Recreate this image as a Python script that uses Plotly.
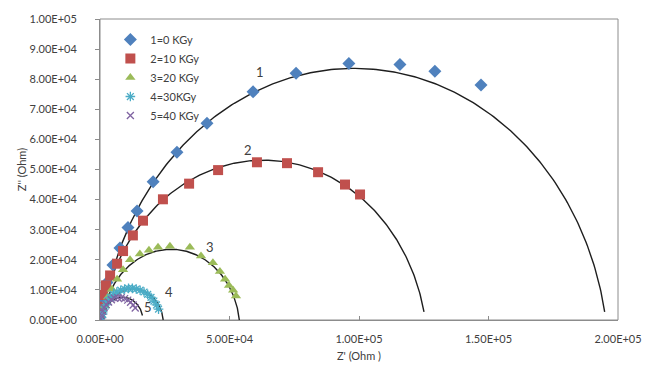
import numpy as np
import plotly.graph_objects as go

# Measured impedance spectra (Z' and Z'' in kOhm) for each dose
names = ["1=0 KGy", "2=10 KGy", "3=20 KGy", "4=30KGy", "5=40 KGy"]

z1_re = [1.2, 2.7, 5.0, 7.7, 10.8, 14.3, 20.5, 29.7, 41.3, 59.1, 75.7, 96.1, 115.8, 129.3, 147.1]
z1_im = [7.0, 12.5, 18.3, 23.9, 30.7, 36.2, 45.9, 55.7, 65.4, 75.8, 82.0, 85.2, 84.9, 82.6, 78.1]

z2_re = [0.4, 1.2, 2.3, 3.9, 6.6, 8.9, 12.7, 16.6, 24.3, 34.4, 45.6, 60.6, 72.2, 84.2, 94.6, 100.4]
z2_im = [4.4, 8.3, 11.5, 14.8, 18.7, 22.9, 28.1, 33.0, 40.1, 45.3, 49.8, 52.4, 52.1, 49.1, 45.0, 41.7]

z3_re = [1.9, 3.1, 4.6, 6.6, 8.9, 11.6, 15.4, 18.9, 22.4, 27.0, 34.7, 39.0, 43.6, 46.3, 48.3, 49.8, 51.4, 52.5]
z3_im = [4.7, 7.6, 10.2, 13.5, 16.7, 20.0, 21.9, 23.2, 24.2, 24.5, 24.2, 21.3, 19.0, 16.1, 13.5, 11.5, 9.9, 8.0]

z4_re = [0.6, 1.0, 1.5, 2.2, 3.0, 4.0, 5.2, 6.5, 8.0, 9.5, 11.0, 12.5, 14.0, 15.5, 17.0, 18.4, 19.7, 20.8, 21.8, 22.6]
z4_im = [0.8, 2.0, 3.6, 5.0, 6.3, 7.5, 8.5, 9.3, 9.9, 10.3, 10.5, 10.5, 10.3, 9.9, 9.3, 8.5, 7.5, 6.3, 5.0, 3.6]

z5_re = [0.3, 0.6, 1.0, 1.6, 2.4, 3.3, 4.4, 5.6, 6.9, 8.2, 9.5, 10.7, 11.8, 12.8, 13.6]
z5_im = [0.4, 1.5, 2.9, 4.1, 5.1, 6.0, 6.7, 7.2, 7.4, 7.4, 7.1, 6.6, 5.9, 5.0, 4.0]

# Fitted equivalent-circuit arcs: (start, end, apex height, lowest Z'' drawn on right side), kOhm
fit_start = [1.0, 0.5, 1.0, 1.3, 0.8]
fit_end = [195.3, 125.6, 53.8, 24.4, 16.6]
fit_peak = [83.6, 53.1, 23.5, 10.4, 7.6]
fit_tail = [2.7, 2.7, 0.0, 0.0, 1.5]

# Curve labels
lab_text = ["1", "2", "3", "4", "5"]
lab_re = [61.8, 57.1, 42.5, 26.5, 18.5]
lab_im = [82.4, 56.5, 24.3, 9.4, 4.4]

x_ticks = [0, 50000, 100000, 150000, 200000]
x_tick_text = ["0.00E+00", "5.00E+04", "1.00E+05", "1.50E+05", "2.00E+05"]
y_ticks = [0, 10000, 20000, 30000, 40000, 50000, 60000, 70000, 80000, 90000, 100000]
y_tick_text = ["0.00E+00", "1.00E+04", "2.00E+04", "3.00E+04", "4.00E+04", "5.00E+04",
               "6.00E+04", "7.00E+04", "8.00E+04", "9.00E+04", "1.00E+05"]

colors = ["#4F81BD", "#C0504D", "#9BBB59", "#4BACC6", "#8064A2"]
symbols = ["diamond", "square", "triangle-up", "asterisk-open", "x-thin-open"]
sizes = [10, 10, 9, 8, 7]

K = 1000.0
fig = go.Figure()


def depressed_arc(a, b, h, tail):
    """Arc of a circle through (a,0), (b,0) with apex height h (centre below the axis)."""
    half = (b - a) / 2.0
    c = (half ** 2 - h ** 2) / (2.0 * h)  # centre depth below axis
    r = h + c
    xc = (a + b) / 2.0
    t0 = np.arcsin(c / r)
    t1 = np.arcsin((c + tail) / r)
    t = np.linspace(t1, np.pi - t0, 240)
    return xc + r * np.cos(t), -c + r * np.sin(t)


for a, b, h, tail in zip(fit_start, fit_end, fit_peak, fit_tail):
    fx, fy = depressed_arc(a, b, h, tail)
    fig.add_trace(go.Scatter(x=fx * K, y=fy * K, mode="lines",
                             line=dict(color="#1e1e1e", width=1.4),
                             showlegend=False, hoverinfo="skip"))

series = [(z1_re, z1_im), (z2_re, z2_im), (z3_re, z3_im), (z4_re, z4_im), (z5_re, z5_im)]
for (xs, ys), nm, col, sym, sz in zip(series, names, colors, symbols, sizes):
    fig.add_trace(go.Scatter(
        x=[v * K for v in xs], y=[v * K for v in ys], mode="markers", name=nm,
        marker=dict(symbol=sym, size=sz, color=col,
                    line=dict(color=col, width=1.3 if "open" in sym else 0))))

for t, xv, yv in zip(lab_text, lab_re, lab_im):
    fig.add_annotation(x=xv * K, y=yv * K, text=t, showarrow=False,
                       font=dict(family="Lato, Arial", size=13, color="#404040"))

axis_font = dict(family="Lato, Arial", size=11, color="#404040")
fig.update_xaxes(range=[0, 200000], tickvals=x_ticks, ticktext=x_tick_text,
                 showgrid=False, zeroline=False, showline=True, linecolor="#8c8c8c",
                 linewidth=1, ticks="inside", ticklen=4, tickcolor="#8c8c8c",
                 tickfont=axis_font, ticklabelstandoff=9,
                 title=dict(text="Z' (Ohm )", font=axis_font, standoff=8))
fig.update_yaxes(range=[0, 100000], tickvals=y_ticks, ticktext=y_tick_text,
                 showgrid=False, zeroline=False, showline=True, linecolor="#8c8c8c",
                 linewidth=1, ticks="outside", ticklen=4, tickcolor="#8c8c8c",
                 tickfont=axis_font, ticklabelstandoff=16,
                 title=dict(text="Z'' (Ohm)", font=axis_font, standoff=0))

# Plot-area frame (top and right edges)
fig.add_shape(type="rect", xref="paper", yref="paper", x0=0, y0=0, x1=1, y1=1,
              line=dict(color="#8c8c8c", width=1), layer="below")

fig.update_layout(
    width=657, height=373,
    margin=dict(l=100, r=39, t=13, b=52),
    plot_bgcolor="white", paper_bgcolor="white",
    font=axis_font,
    legend=dict(x=0.02, y=0.98, xanchor="left", yanchor="top",
                bgcolor="rgba(0,0,0,0)", font=dict(family="Lato, Arial", size=11, color="#404040"),
                itemwidth=30, tracegroupgap=0),
)

fig.write_html("out.html")
